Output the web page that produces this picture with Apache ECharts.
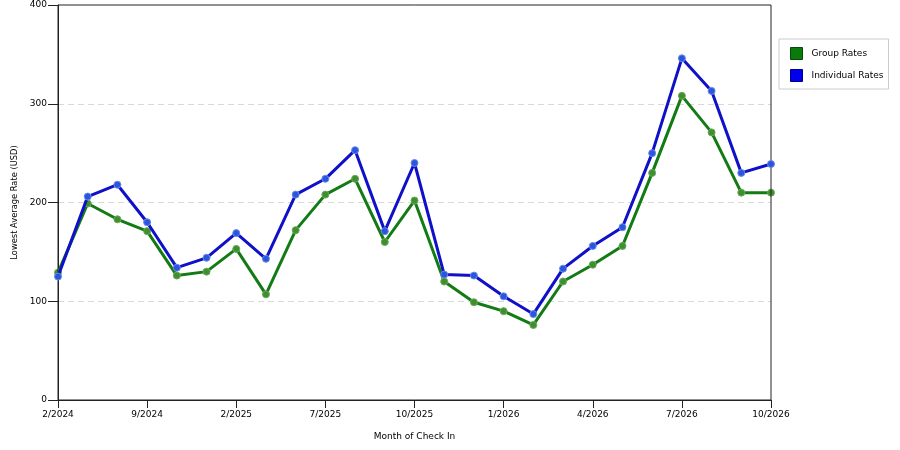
<!DOCTYPE html>
<html><head><meta charset="utf-8">
<script src="https://cdn.jsdelivr.net/npm/echarts@6/dist/echarts.min.js"></script>
<style>html,body{margin:0;padding:0;background:#fff}#c{width:900px;height:450px}</style>
</head><body><div id="c"></div>
<script>
var categories = ['2/2024','','','9/2024','','','2/2025','','','7/2025','','','10/2025','','','1/2026','','','4/2026','','','7/2026','','','10/2026'];
var groupRates = [129,199,183,171,126,130,153,107,172,208,224,160,202,120,99,90,76,120,137,156,230,308,271,210,210];
var individualRates = [125,206,218,180,134,144,169,143,208,224,253,171,240,127,126,105,87,133,156,175,250,346,313,230,239];
var yTicks = {min:0, max:400, interval:100};

var font = 'DejaVu Sans';
var chart = echarts.init(document.getElementById('c'), null, {renderer:'canvas'});
chart.setOption({
  animation:false,
  backgroundColor:'#fff',
  grid:{left:58,right:129,top:5,bottom:50,show:true,borderColor:'#222',borderWidth:1,backgroundColor:'transparent',z:3},
  legend:{
    orient:'vertical', left:779, top:39,
    padding:[8,5,7,11], itemGap:9, itemWidth:12, itemHeight:12,
    borderColor:'#ccc', borderWidth:1, icon:'rect',
    textStyle:{fontFamily:font,fontSize:9,color:'#000',padding:[0,0,0,4]},
    data:[
      {name:'Group Rates', itemStyle:{color:'#0a7a0a',borderColor:'#064806',borderWidth:1}},
      {name:'Individual Rates', itemStyle:{color:'#0000ee',borderColor:'#000088',borderWidth:1}}
    ]
  },
  xAxis:{
    type:'category', data:categories, boundaryGap:false,
    name:'Month of Check In', nameLocation:'middle', nameGap:32,
    nameTextStyle:{fontFamily:font,fontSize:9,color:'#000'},
    axisLine:{lineStyle:{color:'#222'}},
    axisTick:{length:8,interval:2,lineStyle:{color:'#222'}},
    axisLabel:{interval:2,fontFamily:font,fontSize:9,color:'#000',margin:10},
    splitLine:{show:false}
  },
  yAxis:{
    type:'value', min:yTicks.min, max:yTicks.max, interval:yTicks.interval,
    name:'Lowest Average Rate (USD)', nameLocation:'middle', nameGap:34,
    nameTextStyle:{fontFamily:font,fontSize:8.3,color:'#000'},
    axisLine:{show:true,lineStyle:{color:'#222'}},
    axisTick:{show:true,length:10,lineStyle:{color:'#222'}},
    axisLabel:{fontFamily:font,fontSize:9,color:'#000',margin:11},
    splitLine:{show:true,showMinLine:false,showMaxLine:false,lineStyle:{color:'#d8d8d8',type:[6,4],width:1}}
  },
  series:[
    {name:'Group Rates', type:'line', data:groupRates, symbol:'circle', symbolSize:7,
     lineStyle:{color:'#137b13',width:3}, itemStyle:{color:'#3f8f2f',borderColor:'#6aa85a',borderWidth:1}, z:2},
    {name:'Individual Rates', type:'line', data:individualRates, symbol:'circle', symbolSize:7,
     lineStyle:{color:'#1010c8',width:3}, itemStyle:{color:'#2a55dd',borderColor:'#6a8ae8',borderWidth:1}, z:3}
  ]
});
</script></body></html>
